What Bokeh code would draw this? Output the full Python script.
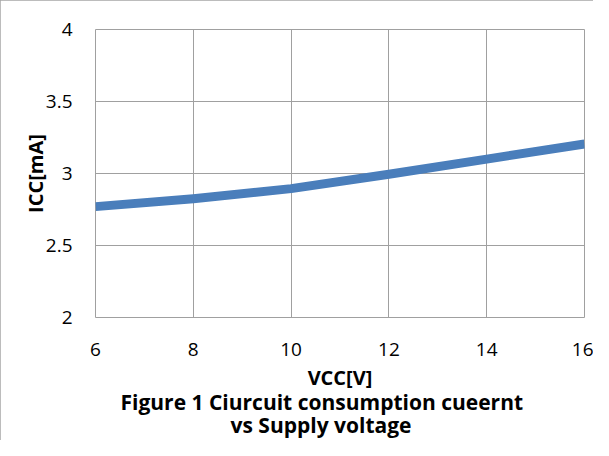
from bokeh.plotting import figure
from bokeh.models import FixedTicker, Range1d, Title
from bokeh.embed import file_html
from bokeh.resources import INLINE

# Data
vcc = [6, 8, 10, 12, 14, 16]
icc = [2.77, 2.825, 2.895, 2.995, 3.10, 3.205]
x_ticks = [6, 8, 10, 12, 14, 16]
y_ticks = [2, 2.5, 3, 3.5, 4]
x_label = "VCC[V]"
y_label = "ICC[mA]"
caption_1 = "Figure 1 Ciurcuit consumption cueernt"
caption_2 = "vs Supply voltage"

FONT = "Open Sans"
GRID = "#a0a0a0"

p = figure(width=593, height=440, output_backend="svg", toolbar_location=None,
           x_range=Range1d(6, 16), y_range=Range1d(2, 4),
           min_border_left=95, min_border_right=9, min_border_top=29,
           min_border_bottom=123)
p.styles = {"outline": "1px solid #a6a6a6", "outline-offset": "-1px"}

p.line(vcc, icc, line_color="#4a7ebb", line_width=9, line_cap="butt", line_join="round")

p.outline_line_color = GRID
p.outline_line_width = 1
p.outline_line_alpha = 1

for ax in (p.xaxis[0], p.yaxis[0]):
    ax.axis_line_color = None
    ax.major_tick_line_color = None
    ax.minor_tick_line_color = None
    ax.major_tick_out = 0
    ax.major_tick_in = 0
    ax.major_label_text_font = FONT
    ax.major_label_text_font_size = "19px"
    ax.major_label_text_color = "#000000"
    ax.axis_label_text_font = FONT
    ax.axis_label_text_font_size = "20px"
    ax.axis_label_text_font_style = "bold"
    ax.axis_label_text_color = "#000000"

p.xaxis[0].ticker = FixedTicker(ticks=x_ticks)
p.yaxis[0].ticker = FixedTicker(ticks=y_ticks)
p.xaxis[0].major_label_standoff = 25
p.yaxis[0].major_label_standoff = 23
p.xaxis[0].axis_label = x_label
p.yaxis[0].axis_label = y_label
p.xaxis[0].axis_label_standoff = 5
p.yaxis[0].axis_label_standoff = -6

p.xgrid.ticker = FixedTicker(ticks=x_ticks)
p.ygrid.ticker = FixedTicker(ticks=y_ticks)
p.grid.grid_line_color = GRID
p.grid.grid_line_width = 1

for txt, off, so in ((caption_1, 25, -15), (caption_2, 135, 0)):
    p.add_layout(Title(text=txt, align="left", offset=off, standoff=so,
                       text_font=FONT, text_font_size="21px", text_font_style="bold",
                       text_color="#000000"), "below")

open("out.html", "w").write(file_html(p, INLINE))
